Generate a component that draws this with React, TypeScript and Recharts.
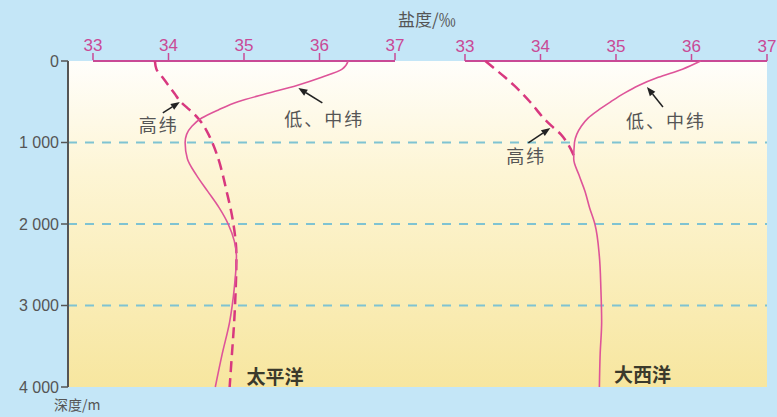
import {
  LineChart, Line, XAxis, YAxis, ReferenceLine, ReferenceArea, ReferenceDot,
} from 'recharts';

// depth samples (m) shared by every curve
const depths = [0, 100, 200, 300, 400, 500, 600, 700, 800, 900, 1000, 1200, 1400, 1600, 1800, 2000, 2400, 2800, 3200, 3600, 4000];

// salinity (‰)
const pacificLowMid = [36.38, 36.3, 36.03, 35.7, 35.3, 34.92, 34.66, 34.44, 34.31, 34.24, 34.22, 34.25, 34.37, 34.52, 34.67, 34.79, 34.9, 34.87, 34.81, 34.71, 34.62];
const pacificHigh = [33.82, 33.84, 33.92, 34.0, 34.08, 34.16, 34.28, 34.39, 34.47, 34.53, 34.58, 34.66, 34.72, 34.77, 34.82, 34.86, 34.9, 34.89, 34.87, 34.84, 34.81];
const atlanticLowMid = [36.12, 35.88, 35.56, 35.3, 35.1, 34.93, 34.77, 34.63, 34.54, 34.48, 34.45, 34.44, 34.51, 34.59, 34.65, 34.72, 34.78, 34.8, 34.81, 34.79, 34.78];
const atlanticHigh = [33.27, 33.4, 33.53, 33.65, 33.76, 33.86, 33.95, 34.04, 34.15, 34.27, 34.35, 34.46, null, null, null, null, null, null, null, null, null];

const salinityTicks = [33, 34, 35, 36, 37];
const depthTicks = [0, 1000, 2000, 3000, 4000];
const gridDepths = [1000, 2000, 3000];

const data = depths.map((depth, i) => ({
  depth,
  pacLow: pacificLowMid[i],
  pacHigh: pacificHigh[i],
  atlLow: atlanticLowMid[i],
  atlHigh: atlanticHigh[i],
}));

// both salinity scales share the plot width but sit side by side
const pacDomain = [32.669, 41.927];
const atlDomain = [27.742, 37];

const PINK = '#c94a96';
const LINE = '#d8387f';
const GRAY = '#555';
const NUM_FONT = '"Liberation Sans", Arial, sans-serif';
const CJK_FONT = '"Noto Sans CJK SC", sans-serif';

function callout(text: string, tail: [number, number], label: [number, number]) {
  return (props: any) => {
    const { cx, cy } = props;
    const tx = cx + tail[0];
    const ty = cy + tail[1];
    const len = Math.hypot(cx - tx, cy - ty);
    const ux = (cx - tx) / len;
    const uy = (cy - ty) / len;
    const bx = cx - ux * 9;
    const by = cy - uy * 9;
    const px = -uy * 3.5;
    const py = ux * 3.5;
    return (
      <g>
        <line x1={tx} y1={ty} x2={bx} y2={by} stroke="#222" strokeWidth={1.5} />
        <polygon points={`${cx},${cy} ${bx + px},${by + py} ${bx - px},${by - py}`} fill="#222" />
        <text x={cx + label[0]} y={cy + label[1]} textAnchor="middle" dominantBaseline="central"
          fontFamily={CJK_FONT} fontSize={18} letterSpacing={2} fill={GRAY}>{text}</text>
      </g>
    );
  };
}

function oceanLabel(text: string) {
  return (props: any) => (
    <text x={props.cx} y={props.cy} textAnchor="middle" dominantBaseline="central"
      fontFamily={CJK_FONT} fontWeight={700} fontSize={19} fill="#3b3a2c">{text}</text>
  );
}

export default function App() {
  return (
    <div style={{ position: 'absolute', left: 0, top: 0, width: 777, height: 417, background: '#c4e6f7', overflow: 'hidden' }}>
      <div style={{ position: 'absolute', left: 398, top: 8, lineHeight: '22px', fontFamily: CJK_FONT, fontSize: 17, color: GRAY }}>盐度/‰</div>
      <div style={{ position: 'absolute', left: 54, top: 397, lineHeight: '14px', fontFamily: CJK_FONT, fontSize: 14, color: GRAY }}>深度/m</div>
      <LineChart layout="vertical" width={777} height={417} data={data}
        margin={{ top: 59, right: 10, bottom: 30, left: 8 }}>
        <defs>
          <linearGradient id="plotBg" x1="0" y1="0" x2="0" y2="1">
            <stop offset="0%" stopColor="#fffefb" />
            <stop offset="35%" stopColor="#fdf5d4" />
            <stop offset="100%" stopColor="#f7e69f" />
          </linearGradient>
        </defs>
        <XAxis xAxisId="pac" type="number" orientation="top" domain={pacDomain} allowDataOverflow
          ticks={salinityTicks} height={1} axisLine={false} tickSize={7}
          tickLine={{ stroke: PINK, strokeWidth: 1.5 }}
          tick={{ fill: PINK, fontSize: 17, fontFamily: NUM_FONT }} />
        <XAxis xAxisId="atl" type="number" orientation="top" domain={atlDomain} allowDataOverflow
          ticks={salinityTicks} height={1} axisLine={false} tickSize={7}
          tickLine={{ stroke: PINK, strokeWidth: 1.5 }}
          tick={{ fill: PINK, fontSize: 17, fontFamily: NUM_FONT }} />
        <YAxis type="number" dataKey="depth" domain={[0, 4000]} ticks={depthTicks} width={60}
          axisLine={{ stroke: GRAY, strokeWidth: 2 }} tickLine={{ stroke: GRAY, strokeWidth: 1.5 }} tickSize={7}
          tick={{ fill: GRAY, fontSize: 16, fontFamily: NUM_FONT }}
          tickFormatter={(v: number) => (v === 0 ? '0' : `${v / 1000} 000`)} />

        <ReferenceArea xAxisId="pac" x1={pacDomain[0]} x2={pacDomain[1]} y1={0} y2={4000}
          fill="url(#plotBg)" fillOpacity={1} stroke="none" ifOverflow="visible" />
        {gridDepths.map((d) => (
          <ReferenceLine key={d} xAxisId="pac" y={d} stroke="#7fc3d2" strokeWidth={2} strokeDasharray="9 8" />
        ))}
        <ReferenceLine xAxisId="pac" segment={[{ x: 33, y: 0 }, { x: 37, y: 0 }]} stroke={PINK} strokeWidth={2} ifOverflow="visible" />
        <ReferenceLine xAxisId="atl" segment={[{ x: 33, y: 0 }, { x: 37, y: 0 }]} stroke={PINK} strokeWidth={2} ifOverflow="visible" />

        <Line xAxisId="pac" dataKey="pacHigh" type="monotone" stroke={LINE} strokeWidth={2.5}
          strokeDasharray="11 6" dot={false} isAnimationActive={false} />
        <Line xAxisId="pac" dataKey="pacLow" type="monotone" stroke="#de5499" strokeWidth={1.6}
          dot={false} isAnimationActive={false} />
        <Line xAxisId="atl" dataKey="atlHigh" type="monotone" stroke={LINE} strokeWidth={2.5}
          strokeDasharray="11 6" dot={false} isAnimationActive={false} />
        <Line xAxisId="atl" dataKey="atlLow" type="monotone" stroke="#de5499" strokeWidth={1.6}
          dot={false} isAnimationActive={false} />

        <ReferenceDot xAxisId="pac" x={34.15} y={503} ifOverflow="visible" shape={callout('高纬', [-17, 11], [-21, 22])} />
        <ReferenceDot xAxisId="pac" x={35.72} y={331} ifOverflow="visible" shape={callout('低、中纬', [24, 15], [26, 30])} />
        <ReferenceDot xAxisId="atl" x={35.41} y={319} ifOverflow="visible" shape={callout('低、中纬', [16, 20], [19, 33])} />
        <ReferenceDot xAxisId="atl" x={34.13} y={822} ifOverflow="visible" shape={callout('高纬', [-22, 15], [-24, 27])} />
        <ReferenceDot xAxisId="pac" x={35.41} y={3853} ifOverflow="visible" shape={oceanLabel('太平洋')} />
        <ReferenceDot xAxisId="atl" x={35.35} y={3830} ifOverflow="visible" shape={oceanLabel('大西洋')} />
      </LineChart>
    </div>
  );
}
